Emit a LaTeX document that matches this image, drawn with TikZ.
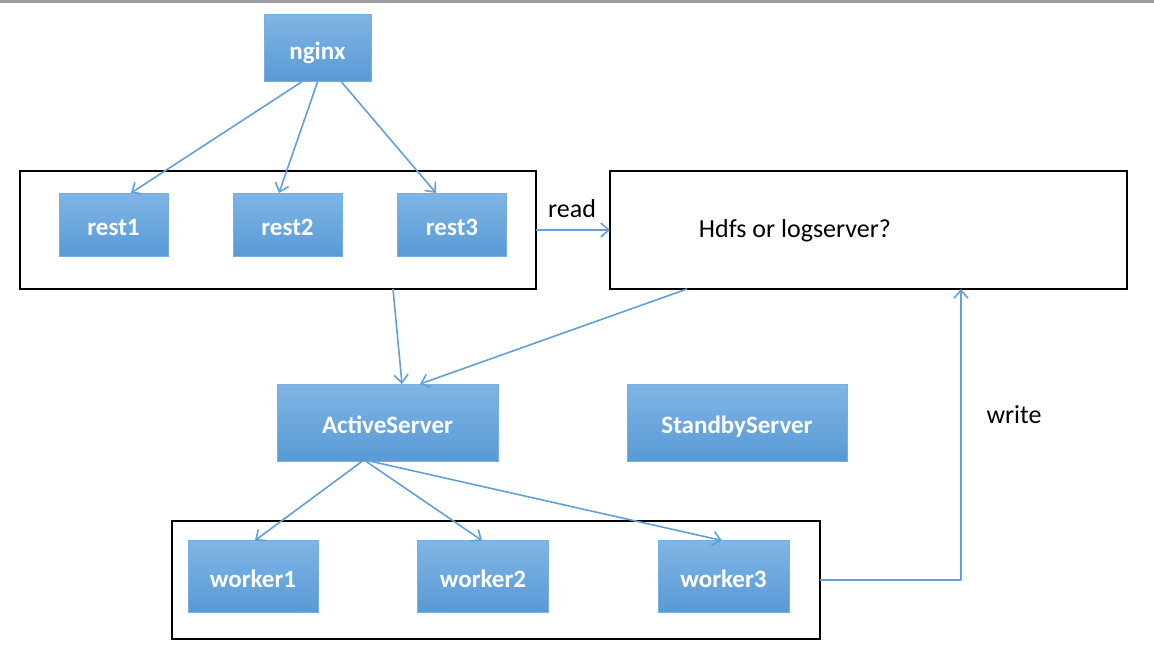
\documentclass[tikz,border=0pt]{standalone}
\usepackage{fontspec}
\setmainfont{Carlito}
\usetikzlibrary{arrows.meta}
\definecolor{boxtop}{RGB}{128,181,229}
\definecolor{boxbot}{RGB}{88,154,213}
\definecolor{boxedge}{RGB}{118,174,224}
\definecolor{conn}{RGB}{98,160,216}
\definecolor{topbar}{RGB}{155,157,162}
\tikzset{
  bluebox/.style={rectangle, top color=boxtop, bottom color=boxbot, draw=boxedge, line width=1pt,
    inner sep=0pt, outer sep=0pt, text=white, text height=22pt, text depth=0pt,
    font=\fontsize{25}{29}\selectfont\bfseries},
  groupbox/.style={rectangle, draw=black, line width=2.5pt, inner sep=0pt, outer sep=0pt},
  conn/.style={draw=conn, line width=1.6pt, -{Straight Barb[length=8pt,width=14pt,line width=1.6pt]}},
  plain/.style={draw=conn, line width=1.6pt},
  lbl/.style={text=black, font=\fontsize{26}{30}\selectfont, inner sep=0pt}
}
\begin{document}
\begin{tikzpicture}[x=1pt,y=-1pt]
\useasboundingbox (0,0) rectangle (1154,666);
\fill[topbar] (0,0) rectangle (1154,3);
% group boxes
\node[groupbox, minimum width=516pt, minimum height=118pt] (restgrp) at (278,230) {};
\node[groupbox, minimum width=517pt, minimum height=118pt] (hdfs) at (868.5,230) {};
\node[groupbox, minimum width=648pt, minimum height=118pt] (workgrp) at (496,580) {};
% blue nodes
\node[bluebox, minimum width=107pt, minimum height=67pt] (nginx) at (317.5,48.5) {nginx};
\node[bluebox, minimum width=109pt, minimum height=63pt] (rest1) at (113.5,224.5) {rest1};
\node[bluebox, minimum width=109pt, minimum height=63pt] (rest2) at (287.5,224.5) {rest2};
\node[bluebox, minimum width=109pt, minimum height=63pt] (rest3) at (452,224.5) {rest3};
\node[bluebox, minimum width=221pt, minimum height=77pt] (active) at (387.5,422.5) {ActiveServer};
\node[bluebox, minimum width=220pt, minimum height=77pt] (standby) at (737,422.5) {StandbyServer};
\node[bluebox, minimum width=130pt, minimum height=72pt] (worker1) at (253,576.5) {worker1};
\node[bluebox, minimum width=131pt, minimum height=72pt] (worker2) at (483,576.5) {worker2};
\node[bluebox, minimum width=131pt, minimum height=72pt] (worker3) at (723.5,576.5) {worker3};
% labels
\node[lbl] (hdfstext) at (795,231) {Hdfs or logserver?};
\node[lbl] (readlbl) at (572,209) {read};
\node[lbl] (writelbl) at (1014,415) {write};
% connectors
\draw[conn] ([xshift=-16pt]nginx.south) -- ([xshift=17.5pt]rest1.north);
\draw[conn] (nginx.south) -- ([xshift=-8.5pt]rest2.north);
\draw[conn] ([xshift=24pt]nginx.south) -- ([xshift=-16pt]rest3.north);
\draw[conn] (restgrp.east) -- (hdfs.west);
\draw[conn] ([xshift=115pt]restgrp.south) -- ([xshift=14.5pt]active.north);
\draw[conn] ([xshift=-181.5pt]hdfs.south) -- ([xshift=32.5pt]active.north);
\draw[conn] ([xshift=-25pt]active.south) -- ([xshift=2pt]worker1.north);
\draw[conn] ([xshift=-22pt]active.south) -- ([xshift=-1pt]worker2.north);
\draw[conn] ([xshift=-18pt]active.south) -- ([xshift=-1.5pt]worker3.north);
\coordinate (corner) at ([xshift=92.5pt]hdfs.south |- workgrp.east);
\draw[plain] (workgrp.east) -- (corner);
\draw[conn] (corner) -- ([xshift=92.5pt]hdfs.south);
\end{tikzpicture}
\end{document}
